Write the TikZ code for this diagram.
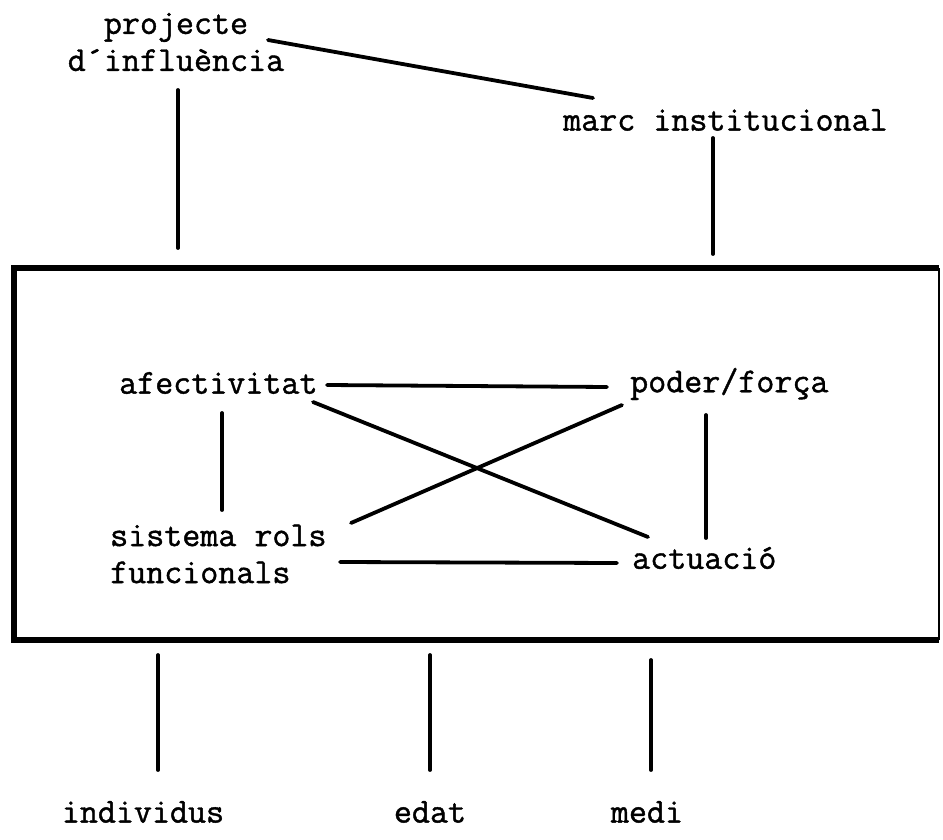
\documentclass[tikz,border=0pt]{standalone}
\usepackage{fontspec}
\newfontfamily\typew{Latin Modern Mono}[FakeBold=1.2]
\begin{document}
\begin{tikzpicture}[x=1pt,y=-1pt,
  lbl/.style={font=\typew\bfseries\fontsize{35}{37}\selectfont, inner sep=0pt, align=left},
  conn/.style={line width=3.8pt, line cap=round},
  frame/.style={line width=6pt}]
\useasboundingbox (0,0) rectangle (943,840);
% texts
\node[lbl, align=center] (proj) at (176,42) {projecte\\d´influència};
\node[lbl, anchor=west] (marc) at (563,120) {marc institucional};
\node[lbl, anchor=west] (afec) at (119,383) {afectivitat};
\node[lbl, anchor=west] (poder) at (630,384) {poder/força};
\node[lbl, anchor=west] (sist) at (110,554) {sistema rols\\funcionals};
\node[lbl, anchor=west] (act) at (632,558) {actuació};
\node[lbl] (ind) at (143,812) {individus};
\node[lbl] (edat) at (430,812) {edat};
\node[lbl] (medi) at (647,812) {medi};
% frame
\draw[frame] (939,268) -- (14,268) -- (14,640) -- (939,640);
\draw[line width=2.5pt] (939,268) -- (939,640);
% connector end points
\coordinate (p1) at (268,40);  \coordinate (m1) at (593,98);
\coordinate (p2) at (178,90);  \coordinate (p3) at (178,248);
\coordinate (m2) at (713,138); \coordinate (m3) at (713,254);
\coordinate (a1) at (327,385); \coordinate (po1) at (607,387);
\coordinate (a2) at (222,413); \coordinate (a3) at (222,510);
\coordinate (po2) at (706,415); \coordinate (po3) at (706,538);
\coordinate (a4) at (313,402); \coordinate (ac1) at (648,537);
\coordinate (s1) at (351,523); \coordinate (po4) at (622,405);
\coordinate (s2) at (340,562); \coordinate (ac2) at (617,563);
\coordinate (b1) at (158,655); \coordinate (b2) at (158,770);
\coordinate (e1) at (430,655); \coordinate (e2) at (430,770);
\coordinate (d1) at (651,660); \coordinate (d2) at (651,770);
% connectors
\draw[conn] (p1) -- (m1);
\draw[conn] (p2) -- (p3);
\draw[conn] (m2) -- (m3);
\draw[conn] (a1) -- (po1);
\draw[conn] (a2) -- (a3);
\draw[conn] (po2) -- (po3);
\draw[conn] (a4) -- (ac1);
\draw[conn] (s1) -- (po4);
\draw[conn] (s2) -- (ac2);
\draw[conn] (b1) -- (b2);
\draw[conn] (e1) -- (e2);
\draw[conn] (d1) -- (d2);
\end{tikzpicture}
\end{document}
